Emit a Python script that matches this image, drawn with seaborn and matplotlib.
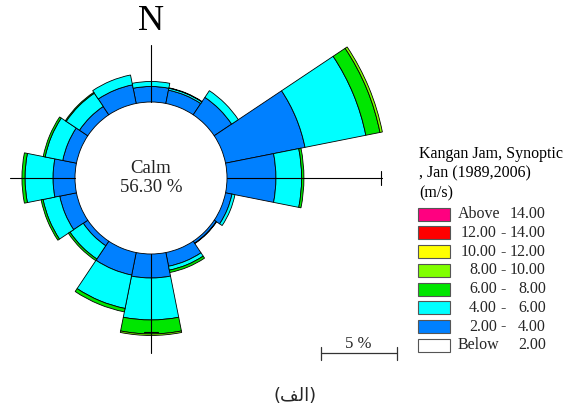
import numpy as np
import pandas as pd
import matplotlib
matplotlib.use("Agg")
import matplotlib.pyplot as plt
import seaborn as sns
from matplotlib.patches import Rectangle
from matplotlib.lines import Line2D

sns.set_theme(style="white")
plt.rcParams['font.family'] = ['Liberation Serif', 'DejaVu Sans']

# wind rose data (% of time), calm shown in the middle
directions = ["N", "NNE", "NE", "ENE", "E", "ESE", "SE", "SSE",
              "S", "SSW", "SW", "WSW", "W", "WNW", "NW", "NNW"]
calm = 56.30
spd_2_4 = [1.02, 0.89, 1.38, 5.33, 3.22, 0.43, 0.16, 0.92, 1.58, 1.51, 0.36, 1.12, 1.45, 0.92, 0.66, 1.25]
spd_4_6 = [0.33, 0.13, 0.53, 4.08, 1.69, 0.20, 0.03, 0.26, 2.76, 2.24, 1.05, 1.12, 1.84, 1.18, 1.05, 0.66]
spd_6_8 = [0.00, 0.03, 0.00, 0.95, 0.15, 0.00, 0.00, 0.16, 0.92, 0.23, 0.13, 0.13, 0.20, 0.13, 0.07, 0.00]
spd_8_10 = [0, 0, 0, 0.16, 0, 0, 0, 0, 0.10, 0, 0, 0, 0, 0, 0, 0]
spd_10_12 = [0, 0, 0, 0, 0, 0, 0, 0, 0, 0, 0, 0, 0, 0, 0, 0]
spd_12_14 = [0, 0, 0, 0, 0, 0, 0, 0, 0, 0, 0, 0, 0, 0, 0, 0]
spd_above_14 = [0, 0, 0, 0, 0, 0, 0, 0, 0, 0, 0, 0, 0, 0, 0, 0]

legend_title = ["Kangan Jam, Synoptic", ", Jan (1989,2006)", "(m/s)"]
class_left = ["Above", "12.00", "10.00", "8.00", "6.00", "4.00", "2.00", "Below"]
class_right = ["14.00", "14.00", "12.00", "10.00", "8.00", "6.00", "4.00", "2.00"]
class_colors = ["#FF0080", "#FF0000", "#FFFF00", "#80FF00", "#00E600", "#00FFFF", "#0080FF", "#FFFFFF"]
scale_pct = 5

df = pd.DataFrame({"dir": directions, "2-4": spd_2_4, "4-6": spd_4_6, "6-8": spd_6_8,
                   "8-10": spd_8_10, "10-12": spd_10_12, "12-14": spd_12_14, ">14": spd_above_14})
stack_cols = ["2-4", "4-6", "6-8", "8-10", "10-12", "12-14", ">14"]
stack_colors = class_colors[::-1][1:]

W, H = 573, 409
fig = plt.figure(figsize=(W / 100, H / 100), dpi=100)
cx, cy = 151, 178          # centre of rose in pixels (from top-left)
px_per = 15.2              # pixels per percent
rmax = 15.6
calm_r = 5.0               # radius of the calm circle (in % units)
Rpx = rmax * px_per
ax = fig.add_axes([(cx - Rpx) / W, (H - cy - Rpx) / H, 2 * Rpx / W, 2 * Rpx / H], projection="polar")
ax.set_theta_zero_location("N")
ax.set_theta_direction(-1)
ax.set_ylim(0, rmax)
ax.axis("off")

theta = np.deg2rad(np.arange(len(directions)) * 22.5)
width = np.deg2rad(22.5)
bottom = np.full(len(directions), calm_r)
for col, c in zip(stack_cols, stack_colors):
    vals = df[col].to_numpy(dtype=float)
    m = vals > 0
    if m.any():
        ax.bar(theta[m], vals[m], width=width, bottom=bottom[m], color=c,
               edgecolor="black", linewidth=0.6, align="center", zorder=2)
    bottom = bottom + vals


def pol(x, y):
    return np.arctan2(x, y), np.hypot(x, y)


# axis lines
for ang, rend in [(0, 8.75), (90, 15.18), (180, 11.5), (270, 9.28)]:
    ax.plot([np.deg2rad(ang)] * 2, [calm_r, rend], color="black", lw=0.8, zorder=3)
t, r = pol(np.array([15.1, 15.1]), np.array([-0.43, 0.43]))
ax.plot(t, r, color="black", lw=0.8, zorder=3)
t, r = pol(np.array([-0.46, 0.46]), np.array([-10.1, -10.1]))
ax.plot(t, r, color="black", lw=0.8, zorder=3)

ax.text(0, 10.3, "N", ha="center", va="center", fontsize=26, color="black")
ax.text(0, 0, f"Calm\n{calm:.2f} %", ha="center", va="center", fontsize=13.5,
        linespacing=1.1, color="#222222")


def fx(x):
    return x / W


def fy(y):
    return 1 - y / H


# legend
for i, line in enumerate(legend_title):
    fig.text(fx(419), fy(158 + 19.5 * i), line, ha="left", va="baseline", fontsize=11.5, color="black")
for i, (lft, rgt, c) in enumerate(zip(class_left, class_right, class_colors)):
    yc = 214.2 + 18.73 * i
    fig.add_artist(Rectangle((fx(418), fy(yc + 6.5)), 32 / W, 13 / H, transform=fig.transFigure,
                             facecolor=c, edgecolor="#555555", linewidth=0.8))
    if lft in ("Above", "Below"):
        fig.text(fx(458), fy(yc), lft, ha="left", va="center", fontsize=11.5)
    else:
        fig.text(fx(497), fy(yc), lft, ha="right", va="center", fontsize=11.5)
        fig.text(fx(503.5), fy(yc), "-", ha="center", va="center", fontsize=11.5)
    fig.text(fx(546), fy(yc), rgt, ha="right", va="center", fontsize=11.5)

# scale bar
fig.canvas.draw()
p0 = ax.transData.transform((0, 0))
p1 = ax.transData.transform((np.pi / 2, scale_pct))
L = p1[0] - p0[0]
x0, yb = 320.7, 353.3
fig.add_artist(Line2D([fx(x0), fx(x0 + L)], [fy(yb), fy(yb)], transform=fig.transFigure, color="#333333", lw=0.9))
for xx in (x0, x0 + L):
    fig.add_artist(Line2D([fx(xx), fx(xx)], [fy(347), fy(360)], transform=fig.transFigure, color="#333333", lw=0.9))
fig.text(fx(x0 + L / 2), fy(348), f"{scale_pct} %", ha="center", va="baseline", fontsize=12)

# caption "(الف)" written in visual order with presentation forms
fig.text(fx(295), fy(396), "(\ufed2\ufedf\ufe8d)", ha="center", va="center", fontsize=13,
         family=["DejaVu Sans"])

fig.savefig("out.png", dpi=100)
